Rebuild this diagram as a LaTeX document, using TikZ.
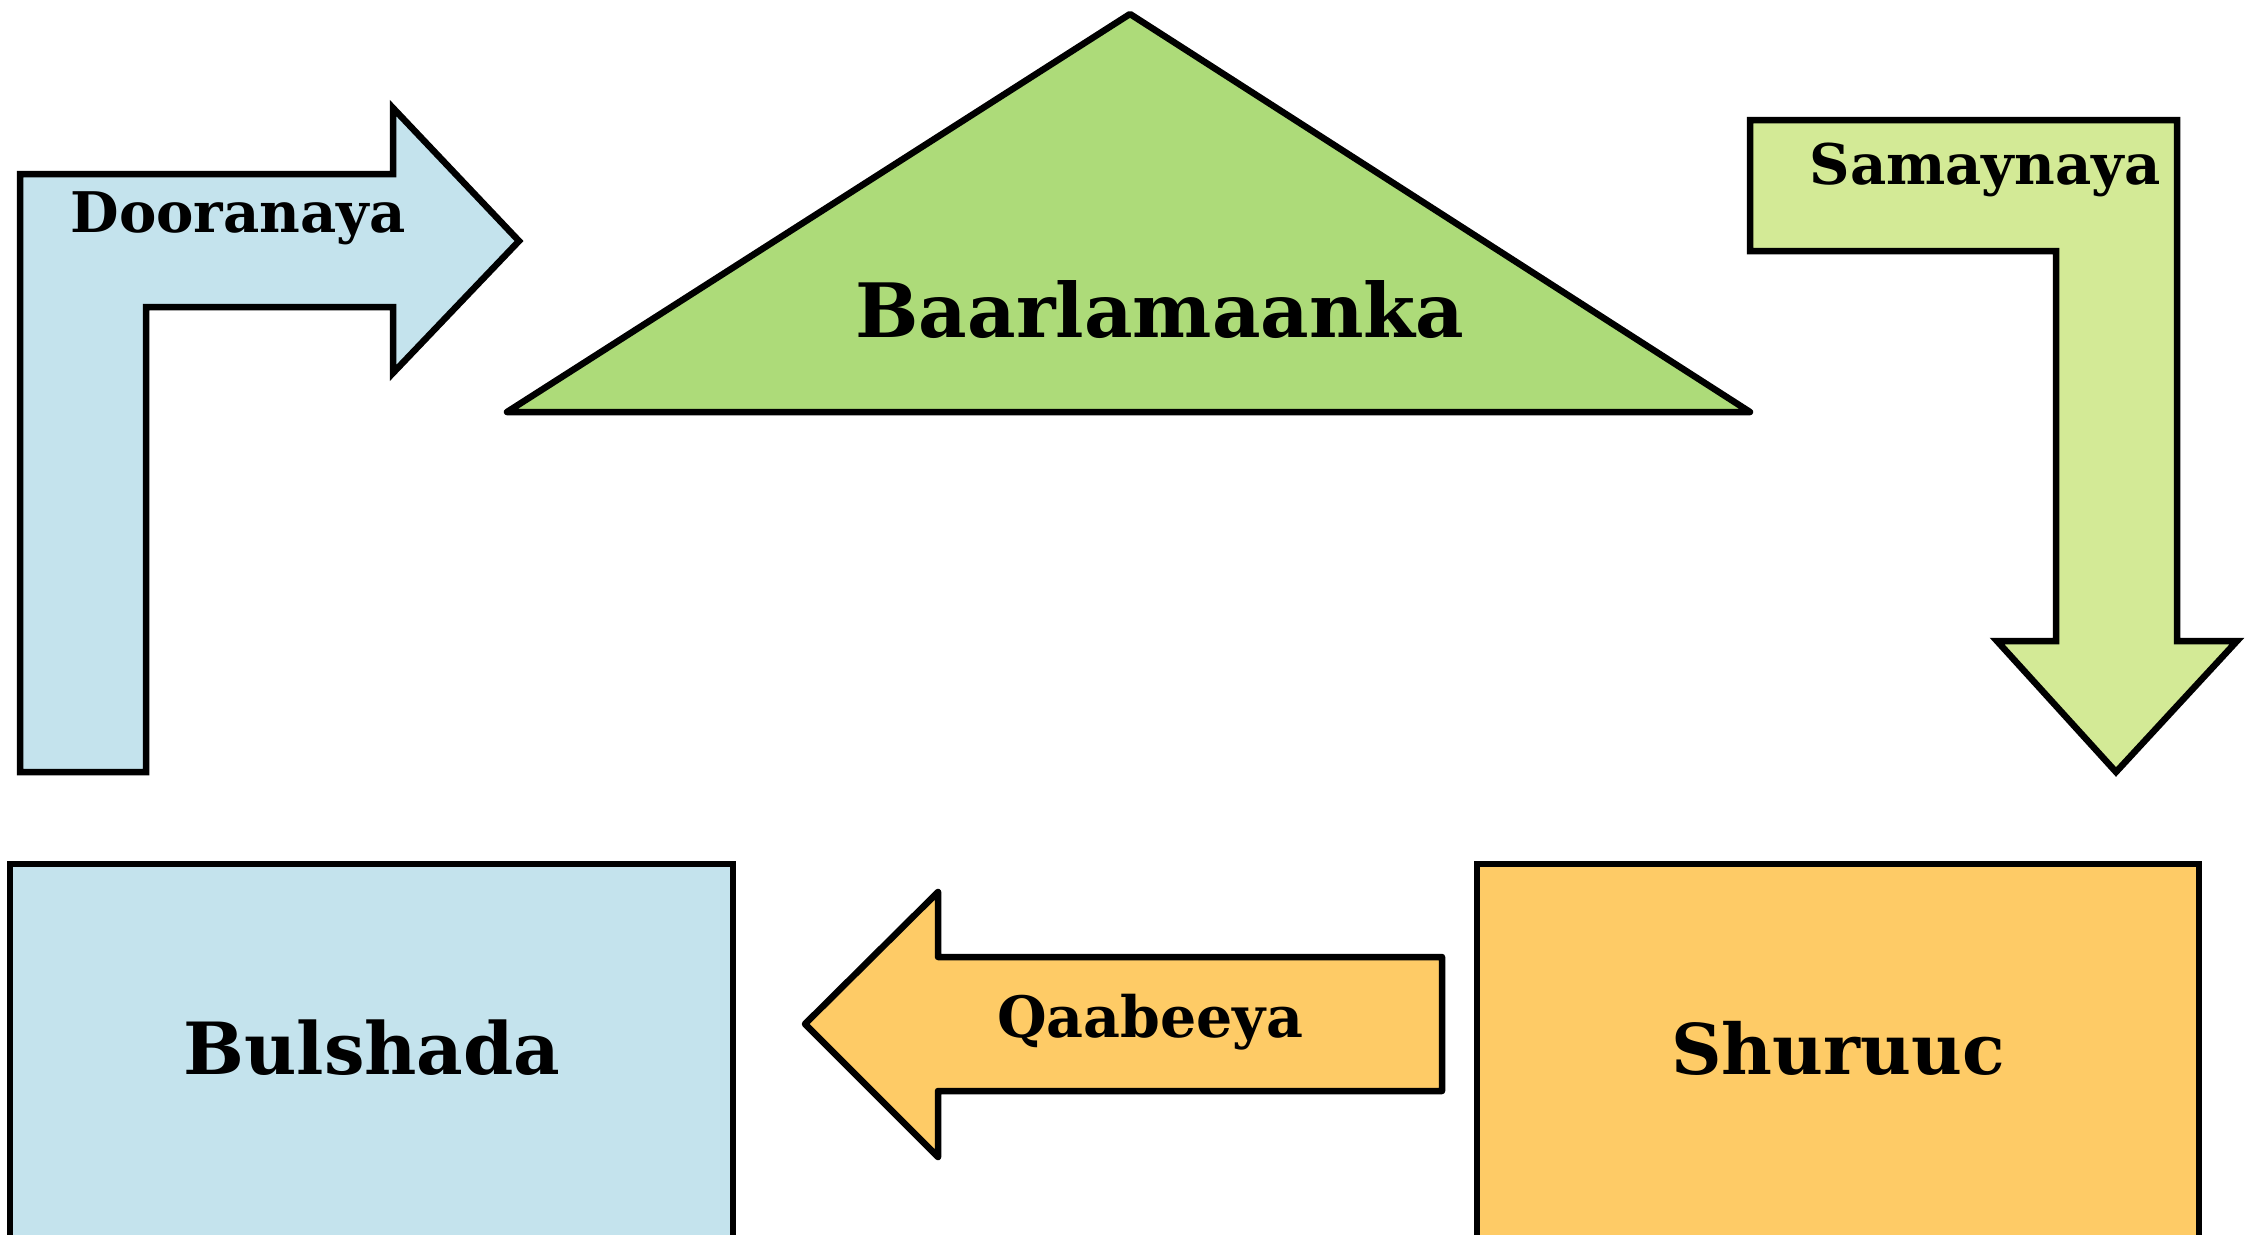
\documentclass[tikz,border=0pt]{standalone}
\usepackage{fontspec}
\setmainfont{DejaVu Serif}
\definecolor{cblue}{HTML}{C4E3ED}
\definecolor{ctri}{HTML}{ADDB79}
\definecolor{cgreen}{HTML}{D3EA96}
\definecolor{corange}{HTML}{FECB66}
\tikzset{
  shapeline/.style={draw=black, line width=6.5pt, line join=miter},
  bigtxt/.style={font=\bfseries\fontsize{72}{80}\selectfont, inner sep=0pt},
  smalltxt/.style={font=\bfseries\fontsize{56}{64}\selectfont, inner sep=0pt},
}
\begin{document}
\begin{tikzpicture}[x=1pt,y=-1pt]
\useasboundingbox (0,0) rectangle (2259,1234);
% Dooranaya L-arrow
\draw[shapeline, fill=cblue] (20,772) -- (20,174) -- (393,174) -- (393,108) -- (519,241)
  -- (393,373) -- (393,307) -- (146,307) -- (146,772) -- cycle;
\node[smalltxt] (doo) at (238,218) {Dooranaya};
% Triangle
\draw[shapeline, fill=ctri, line join=round] (1130,14) -- (1750,412) -- (507,412) -- cycle;
\node[bigtxt, font=\bfseries\fontsize{75}{80}\selectfont] (baar) at (1160,310) {Baarlamaanka};
% Samaynaya arrow
\draw[shapeline, fill=cgreen] (1750,120) -- (2177,120) -- (2177,641) -- (2237,641) -- (2116,772)
  -- (1997,641) -- (2056,641) -- (2056,251) -- (1750,251) -- cycle;
\node[smalltxt] (sam) at (1985,170) {Samaynaya};
% Qaabeeya arrow
\draw[shapeline, fill=corange, line join=round] (805,1024) -- (938,892) -- (938,957) -- (1442,957)
  -- (1442,1091) -- (938,1091) -- (938,1157) -- cycle;
\node[smalltxt, font=\bfseries\fontsize{57}{64}\selectfont] (qaa) at (1150,1022) {Qaabeeya};
% Boxes
\draw[shapeline, fill=cblue] (10,864) rectangle (733,1250);
\node[bigtxt] (bul) at (372,1048) {Bulshada};
\draw[shapeline, fill=corange] (1477,864) rectangle (2199,1250);
\node[bigtxt, font=\bfseries\fontsize{70}{80}\selectfont] (shu) at (1838,1048) {Shuruuc};
\end{tikzpicture}
\end{document}
